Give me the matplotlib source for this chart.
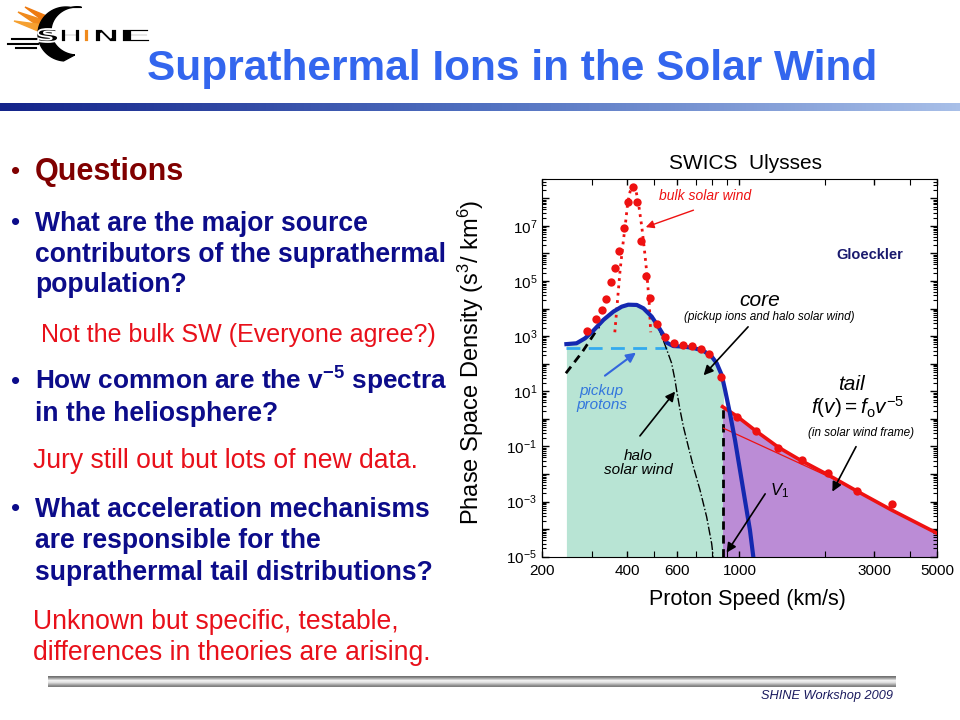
import numpy as np
import matplotlib.pyplot as plt
from matplotlib.colors import LinearSegmentedColormap
from matplotlib.patches import Rectangle, PathPatch
from matplotlib.textpath import TextPath
from matplotlib.font_manager import FontProperties
from matplotlib.transforms import Affine2D
from matplotlib.ticker import FixedLocator, LogLocator, NullFormatter, FuncFormatter

# 1. Datos (SWICS Ulysses)
# puntos medidos (rojos)
obs_v = [288, 310, 325, 338, 350, 363, 376, 391, 404, 420, 435, 449, 466, 482,
         509, 545, 588, 629, 679, 733, 782, 860, 977, 1143, 1372, 1665, 2063,
         2605, 3466]
obs_f = [1.55e3, 4.2e3, 8.9e3, 2.2e4, 9.5e4, 3.0e5, 1.26e6, 8.1e6, 7.2e7,
         2.5e8, 7.6e7, 2.8e6, 1.5e5, 2.4e4, 2.8e3, 9.1e2, 5.6e2, 4.9e2, 4.3e2,
         3.3e2, 2.2e2, 34, 1.2, 0.35, 0.09, 0.032, 0.0105, 0.0024, 0.00081]

# ajuste del viento solar (punteado rojo)
bulk_v = [362, 371, 378, 386, 395, 402, 410, 419, 430, 439, 451, 461, 470, 479, 485]
bulk_f = [1.38e3, 2.7e4, 2.5e5, 1.8e6, 1.26e7, 6.6e7, 1.74e8, 2.7e8, 1.9e8,
          6.6e7, 9.3e6, 1.3e6, 1.9e5, 1.6e4, 1.38e3]

# nucleo (azul)
core_v = [244, 265, 284, 304, 330, 358, 383, 404, 433, 457, 489, 516, 538, 553,
          583, 633, 687, 745, 797, 830, 865, 889, 925, 964, 1004, 1045, 1089, 1119]
core_f = [513, 550, 832, 1585, 3890, 7760, 1.17e4, 1.38e4, 1.35e4, 1.02e4,
          5.1e3, 2.2e3, 1.1e3, 575, 436, 417, 372, 295, 182, 105, 39, 11.2,
          1.58, 0.17, 0.0138, 1.15e-3, 9.1e-5, 1e-5]

# halo del viento solar (negro)
halo_v = [243, 278, 318, 330, 358, 383, 404, 433, 457, 489, 516, 545, 575, 591,
          600, 616, 633, 659, 687, 725, 765, 797, 807]
halo_f = [45, 270, 2.2e3, 3.8e3, 7.6e3, 1.15e4, 1.35e4, 1.3e4, 1.0e4, 5.0e3,
          2.1e3, 480, 105, 26, 9.8, 2.1, 0.52, 0.098, 0.018, 0.0026, 2.8e-4,
          3.0e-5, 1e-5]

# iones pickup (cian)
pickup_v = [244, 552]
pickup_f = [372, 372]

# cola supratermica
tail_v = [871, 977, 1150, 1372, 1636, 2065, 2602, 3456, 5000]
tail_f = [2.75, 1.26, 0.347, 0.0933, 0.0324, 0.00912, 0.0024, 4.9e-4, 7.1e-5]
thin_v = [877, 2330]
thin_f = [0.457, 0.00457]
v1 = 871

x_ticks = [200, 400, 600, 1000, 3000, 5000]
x_minor = [300, 500, 700, 800, 900, 2000, 4000]

NAVY = '#0c0c8a'
RED = '#e8101a'


def logo_letter(ax, ch, x0, x1, y0, y1, color):
    # letra estirada dentro de una caja (pixeles, eje y hacia abajo)
    tp = TextPath((0, 0), ch, size=20, prop=FontProperties(family='DejaVu Sans', weight='bold'))
    ext = tp.get_extents()
    tr = (Affine2D().translate(-ext.x0, -ext.y0)
          .scale((x1 - x0) / ext.width, -(y1 - y0) / ext.height)
          .translate(x0, y1))
    ax.add_patch(PathPatch(tr.transform_path(tp), facecolor=color,
                           edgecolor='white', lw=1.3, zorder=3))


def make_slide():
    plt.rcParams['font.family'] = ['Liberation Sans', 'DejaVu Sans']
    plt.rcParams['mathtext.fontset'] = 'custom'
    plt.rcParams['mathtext.rm'] = 'Liberation Sans'
    plt.rcParams['mathtext.it'] = 'Liberation Sans:italic'
    plt.rcParams['mathtext.bf'] = 'Liberation Sans:bold'

    fig = plt.figure(figsize=(9.6, 7.2), dpi=100)

    # 2. Fondo de la diapositiva (coordenadas en pixeles)
    bg = fig.add_axes([0, 0, 1, 1])
    bg.axis('off')

    # logo
    t = np.radians(np.linspace(80, 265, 60))
    ox, oy = 66 + 28 * np.cos(t), 34 - 27 * np.sin(t)
    t2 = t[::-1]
    ix, iy = 77 + 26 * np.cos(t2), 31 - 24 * np.sin(t2)
    bg.fill(np.r_[ox, ix], np.r_[oy, iy], color='black', zorder=2)
    for pts, c in [([(18, 12), (46, 21), (40, 27)], '#f08a1c'),
                   ([(14, 21), (44, 25), (38, 31)], '#f5a030'),
                   ([(25, 7), (49, 17), (46, 23)], '#ee7a10')]:
        xs, ys = zip(*pts)
        bg.fill(xs, ys, color=c, zorder=1)
    for (x0, x1, y) in [(12, 40, 39), (8, 38, 43.5), (16, 36, 48)]:
        bg.plot([x0, x1], [y, y], color='black', lw=1.5)
    for ch, x0, x1, col in [('S', 38, 58, 'black'), ('H', 61, 80, 'black'),
                            ('I', 84, 89, '#f08a1c'), ('N', 95, 117, 'black'),
                            ('E', 122, 150, 'black')]:
        logo_letter(bg, ch, x0, x1, 29, 42, col)

    # titulo
    bg.text(512, 80, 'Suprathermal Ions in the Solar Wind', fontsize=30.5,
            fontweight='bold', color='#3366ee', ha='center', va='baseline')

    # barra degradada
    cmap_bar = LinearSegmentedColormap.from_list('bar', ['#14248a', '#5070c0', '#a8bfe8'])
    bg.imshow(np.linspace(0, 1, 256)[None, :], extent=[0, 960, 111, 103],
              cmap=cmap_bar, aspect='auto', zorder=1)

    # barra plateada del pie
    silver = np.array([[0.45], [0.7], [0.95], [0.88], [0.7], [0.5]])
    bg.imshow(silver, extent=[48, 896, 687, 676], cmap='gray', vmin=0, vmax=1,
              aspect='auto', interpolation='bilinear', zorder=1)
    bg.text(893, 699, 'SHINE Workshop 2009', fontsize=9.2, style='italic',
            color='#1a1a5e', ha='right', va='baseline')
    bg.set_xlim(0, 960)
    bg.set_ylim(720, 0)

    # 3. Texto de la izquierda
    lines = [
        ('Questions', 35, 180, '#800000', 'bold', 22),
        ('What are the major source', 35, 231, NAVY, 'bold', 19.1),
        ('contributors of the suprathermal', 35, 261.5, NAVY, 'bold', 19.1),
        ('population?', 35, 292, NAVY, 'bold', 19.1),
        ('Not the bulk SW (Everyone agree?)', 40.7, 341.7, RED, 'normal', 18.0),
        (r'How common are the v$^{\mathbf{-5}}$ spectra', 35, 390, NAVY, 'bold', 18.9),
        ('in the heliosphere?', 35, 420.7, NAVY, 'bold', 19.1),
        ('Jury still out but lots of new data.', 33, 468.3, RED, 'normal', 19.1),
        ('What acceleration mechanisms', 35, 516.7, NAVY, 'bold', 19.1),
        ('are responsible for the', 35, 547.7, NAVY, 'bold', 19.1),
        ('suprathermal tail distributions?', 35, 580, NAVY, 'bold', 19.1),
        ('Unknown but specific, testable,', 33, 629.3, RED, 'normal', 19.1),
        ('differences in theories are arising.', 33, 660, RED, 'normal', 19.1),
    ]
    for txt, x, y, col, w, s in lines:
        bg.text(x, y, txt, color=col, fontweight=w, fontsize=s, va='baseline')
    for y, col in [(180, '#800000'), (231, NAVY), (390, NAVY), (516.7, NAVY)]:
        bg.text(11, y - 1, '\u2022', color=col, fontsize=19, va='baseline')

    # 4. Grafica
    ax = fig.add_axes([542 / 960, 1 - 556.67 / 720, 395 / 960, (556.67 - 179) / 720])
    ax.set_xscale('log')
    ax.set_yscale('log')
    ax.set_xlim(200, 5000)
    ax.set_ylim(1e-5, 5e8)

    teal = ax.fill_between(core_v, 1e-5, core_f, color='#b8e4d4', lw=0, zorder=1)
    teal.set_clip_path(Rectangle((200, 1e-6), v1 - 200, 1e10, transform=ax.transData))
    ax.fill_between(tail_v, 1e-5, tail_f, color='#bb8cd6', lw=0, zorder=1)

    ax.plot(pickup_v, pickup_f, color='#33aaee', lw=2, dashes=(5, 3), zorder=3)
    ax.plot(halo_v[:3], halo_f[:3], color='black', lw=2, dashes=(3, 2), zorder=3)
    ax.plot(halo_v[10:], halo_f[10:], color='black', lw=1, ls='-.', zorder=3)
    ax.plot([v1, v1], [1e-5, tail_f[0]], color='black', lw=2, dashes=(3, 2), zorder=3)
    ax.plot(thin_v, thin_f, color='#ee1111', lw=0.9, zorder=3)
    ax.plot(tail_v, tail_f, color='#ee1111', lw=2.6, zorder=3)
    ax.plot(bulk_v, bulk_f, color='#ee1111', lw=2, ls=':', zorder=3)
    ax.plot(core_v, core_f, color='#1428b0', lw=3, zorder=4)
    ax.plot(obs_v, obs_f, 'o', color='#ee1111', ms=6, mew=0, zorder=5)

    # flechas
    arrow_k = dict(arrowstyle='-|>', color='black', lw=1.2, mutation_scale=14)
    ax.annotate('', xy=(735, 32), xytext=(1089, 2570), arrowprops=arrow_k, zorder=6)
    ax.annotate('', xy=(600, 11.7), xytext=(438, 0.2), arrowprops=arrow_k, zorder=6)
    ax.annotate('', xy=(2109, 1.86e-3), xytext=(2612, 0.12), arrowprops=arrow_k, zorder=6)
    ax.annotate('', xy=(889, 1.15e-5), xytext=(1248, 2.3e-3), arrowprops=arrow_k, zorder=6)
    ax.annotate('', xy=(438, 290), xytext=(328, 32),
                arrowprops=dict(arrowstyle='-|>', color='#3366dd', lw=1.5,
                                mutation_scale=14), zorder=6)
    ax.annotate('', xy=(456, 8.3e6), xytext=(702, 4.0e7),
                arrowprops=dict(arrowstyle='-|>', color='#ee1111', lw=1,
                                mutation_scale=12), zorder=6)

    # textos de la grafica
    ax.text(755, 1.23e8, 'bulk solar wind', color='#ee1111', style='italic',
            fontsize=10, ha='center', va='center')
    ax.text(1183, 1.95e4, 'core', style='italic', fontsize=15, ha='center', va='center')
    ax.text(1270, 5.1e3, '(pickup ions and halo solar wind)', style='italic',
            fontsize=8.5, ha='center', va='center')
    ax.text(2897, 8.9e5, 'Gloeckler', color='#1a1a6e', fontweight='bold',
            fontsize=10.5, ha='center', va='center')
    ax.text(325, 5.6, 'pickup\nprotons', color='#3377dd', style='italic',
            fontsize=11, ha='center', va='center', linespacing=1.0)
    ax.text(438, 0.0245, 'halo\nsolar wind', style='italic', fontsize=11,
            ha='center', va='center', linespacing=1.0)
    ax.text(2497, 18, 'tail', style='italic', fontsize=15, ha='center', va='center')
    ax.text(2620, 2.75, r'$f(v) = f_{\rm o}v^{-5}$', fontsize=15, ha='center', va='center')
    ax.text(2686, 0.30, '(in solar wind frame)', style='italic', fontsize=8.5,
            ha='center', va='center')
    ax.text(1390, 0.0024, r'$V_1$', fontsize=12, ha='center', va='center')

    # ejes
    ax.xaxis.set_major_locator(FixedLocator(x_ticks))
    ax.xaxis.set_minor_locator(FixedLocator(x_minor))
    ax.xaxis.set_major_formatter(FuncFormatter(lambda v, p: f'{int(v)}'))
    ax.xaxis.set_minor_formatter(NullFormatter())
    ax.yaxis.set_major_locator(LogLocator(base=10, numticks=30))
    ax.yaxis.set_minor_locator(LogLocator(base=10, subs=np.arange(2, 10), numticks=30))
    ax.yaxis.set_major_formatter(FuncFormatter(
        lambda y, p: f'$10^{{{int(round(np.log10(y)))}}}$' if int(round(np.log10(y))) % 2 else ''))
    ax.yaxis.set_minor_formatter(NullFormatter())
    ax.tick_params(which='both', direction='in', top=True, right=True, labelsize=11)
    ax.tick_params(which='major', length=5, width=1)
    ax.tick_params(which='minor', length=3, width=0.8)
    ax.tick_params(axis='x', which='both', length=4, pad=5)

    ax.set_title('SWICS  Ulysses', fontsize=15, pad=7, x=0.514)
    ax.set_xlabel('Proton Speed (km/s)', fontsize=15.5)
    ax.xaxis.set_label_coords(0.521, -0.085)
    ax.set_ylabel('Phase Space Density (s$^3$/ km$^6$)', fontsize=17)
    ax.yaxis.set_label_coords(-0.142, 0.515)

    fig.savefig('out.png', dpi=100)


if __name__ == "__main__":
    make_slide()
